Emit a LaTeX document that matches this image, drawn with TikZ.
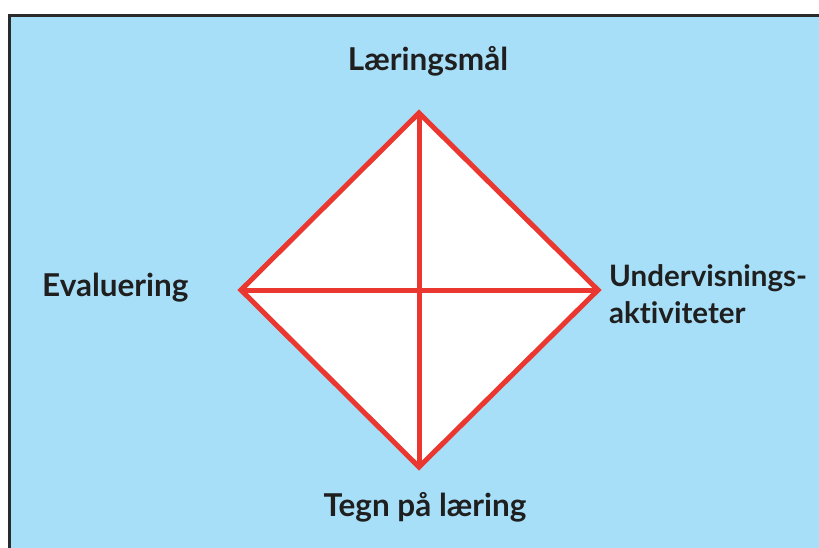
\documentclass[tikz,border=0pt]{standalone}
\usepackage{fontspec}
\setmainfont{Lato}[Ligatures={NoCommon}]
\definecolor{bg}{HTML}{A8DFF8}
\definecolor{rd}{HTML}{EA3730}
\definecolor{frame}{HTML}{2A2A2A}
\begin{document}
\begin{tikzpicture}[x=1pt,y=-1pt,
  lbl/.style={font=\fontsize{31.5}{37}\selectfont\bfseries, text=black!88, inner sep=0pt},
  edge/.style={draw=rd, line width=5pt}]
\useasboundingbox (0,0) rectangle (819,548);
\fill[white] (0,0) rectangle (819,548);
\filldraw[fill=bg, draw=frame, line width=3pt] (9.5,15.5) rectangle (830,560);
\coordinate (T) at (419,113);
\coordinate (B) at (419,467);
\coordinate (L) at (241,290);
\coordinate (R) at (598,290);
\filldraw[fill=white, edge, line join=miter] (T) -- (R) -- (B) -- (L) -- cycle;
\draw[edge] (T) -- (B);
\draw[edge] (L) -- (R);
\node[lbl] (top) at (428,61) {Læringsmål};
\node[lbl, anchor=west] (left) at (42,288) {Evaluering};
\node[lbl, font=\fontsize{29.5}{37}\selectfont\bfseries, anchor=west, align=left] (right) at (609,294) {Undervisnings-\\aktiviteter};
\node[lbl] (bot) at (425,507) {Tegn på læring};
\end{tikzpicture}
\end{document}
